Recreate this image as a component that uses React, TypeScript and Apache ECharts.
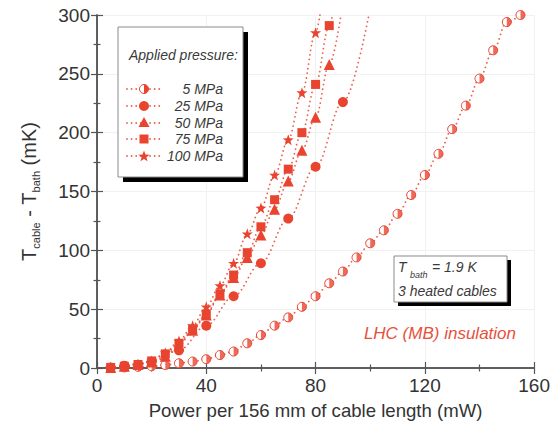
import React, { useEffect, useRef } from "react";
import * as echarts from "echarts";

// ---- Data ----
const xTicks = [0, 40, 80, 120, 160];
const yTicks = [0, 50, 100, 150, 200, 250, 300];

const p5x = [5, 10, 15, 20, 25, 30, 35, 40, 45, 50, 55, 60, 65, 70, 75, 80, 85, 90, 95, 100, 105, 110, 115, 120, 125, 130, 135, 140, 145, 150, 155];
const p5y = [0.3, 0.5, 1, 1.5, 2.5, 4, 5.5, 7.5, 11, 14, 21, 28, 36, 43, 52, 61, 72, 82, 94, 106, 117, 131, 147, 164, 182, 203, 223, 246, 270, 294, 300];

const p25x = [10, 20, 30, 40, 50, 60, 70, 80, 90];
const p25y = [2, 5, 15, 36, 61, 89, 127, 171, 226];
const p25End = [99.5, 300];

const p50x = [5, 10, 15, 20, 25, 30, 35, 40, 45, 50, 55, 60, 65, 70, 75, 80, 85];
const p50y = [0.5, 1.5, 3, 5, 10, 19, 32, 45, 62, 77, 94, 113, 135, 159, 185, 213, 258];
const p50End = [89.3, 300];

const p75x = [5, 10, 15, 20, 25, 30, 35, 40, 45, 50, 55, 60, 65, 70, 75, 80, 85];
const p75y = [0.5, 1.5, 3, 6, 12, 21, 33, 46, 63, 79, 98, 120, 143, 169, 200, 241, 291];
const p75End = [86.2, 300];

const p100x = [5, 10, 15, 20, 25, 30, 35, 40, 45, 50, 55, 60, 65, 70, 75, 80];
const p100y = [0.5, 1.5, 3, 6, 13, 23, 36, 52, 70, 89, 114, 136, 164, 194, 234, 285];
const p100End = [81.6, 300];

const legendLabels = ["5 MPa", "25 MPa", "50 MPa", "75 MPa", "100 MPa"];

// ---- Styles ----
const RED = "#e8442f";
const FONT = "'Liberation Sans', Arial, Helvetica, sans-serif";
const STAR = "path://M0,-10 L2.35,-3.24 L9.51,-3.09 L3.8,1.24 L5.88,8.09 L0,4 L-5.88,8.09 L-3.8,1.24 L-9.51,-3.09 L-2.35,-3.24 Z";
const HALF = "path://M0,-10 A10,10 0 0 1 0,10 Z";

const pairs = (xs: number[], ys: number[]) => xs.map((x, i) => [x, ys[i]]);

const lineStyle = { color: RED, width: 1.8, type: [0.01, 4.6] as any, cap: "round" as any, opacity: 0.85 };

function starPoints(cx: number, cy: number, r: number) {
  const pts: number[][] = [];
  for (let i = 0; i < 10; i++) {
    const rr = i % 2 === 0 ? r : r * 0.42;
    const a = -Math.PI / 2 + (i * Math.PI) / 5;
    pts.push([cx + rr * Math.cos(a), cy + rr * Math.sin(a)]);
  }
  return pts;
}

export default function App() {
  const ref = useRef<HTMLDivElement>(null);
  useEffect(() => {
    if (!ref.current) return;
    const chart = echarts.init(ref.current, null, { renderer: "svg" });

    const mk = (name: string, xs: number[], ys: number[], end: number[] | null, symbol: string, size: any, z = 3) => {
      const data: any[] = pairs(xs, ys);
      if (end) data.push({ value: end, symbol: "none" });
      return {
        name,
        type: "line",
        data,
        symbol,
        symbolSize: size,
        showAllSymbol: true,
        smooth: 0.35,
        smoothMonotone: "x",
        lineStyle,
        itemStyle: { color: RED, borderWidth: 0 },
        z,
      };
    };

    // legend drawn as graphic
    const lx = 118, ly = 27, lw = 125, lh = 150;
    const rows = [89, 106, 123, 139, 156];
    const mxc = 144;
    const legendEls: any[] = [
      { type: "rect", shape: { x: lx + 5, y: ly + 5, width: lw, height: lh }, style: { fill: "#000" }, z: 10 },
      { type: "rect", shape: { x: lx, y: ly, width: lw, height: lh }, style: { fill: "#fff", stroke: "#8a8a8a", lineWidth: 1 }, z: 11 },
      { type: "text", x: 129, y: 55, style: { text: "Applied pressure:", font: `italic 14px ${FONT}`, fill: "#3a3a3a", verticalAlign: "middle" }, z: 12 },
    ];
    rows.forEach((ry, i) => {
      legendEls.push({ type: "line", shape: { x1: 127, y1: ry, x2: 162, y2: ry }, style: { stroke: RED, lineWidth: 1.8, lineDash: [0.01, 4.6], lineCap: "round", opacity: 0.85 }, z: 12 });
      legendEls.push({ type: "text", x: 223, y: ry, style: { text: legendLabels[i], font: `italic 14px ${FONT}`, fill: "#3a3a3a", align: "right", verticalAlign: "middle" }, z: 12 });
    });
    legendEls.push({ type: "circle", shape: { cx: mxc, cy: rows[0], r: 4.5 }, style: { fill: "#fff", stroke: RED, lineWidth: 1 }, z: 13 });
    legendEls.push({ type: "sector", shape: { cx: mxc, cy: rows[0], r: 4.5, r0: 0, startAngle: -Math.PI / 2, endAngle: Math.PI / 2, clockwise: true }, style: { fill: RED }, z: 14 });
    legendEls.push({ type: "circle", shape: { cx: mxc, cy: rows[1], r: 5 }, style: { fill: RED }, z: 13 });
    legendEls.push({ type: "polygon", shape: { points: [[mxc, rows[2] - 6], [mxc + 5.5, rows[2] + 4], [mxc - 5.5, rows[2] + 4]] }, style: { fill: RED }, z: 13 });
    legendEls.push({ type: "rect", shape: { x: mxc - 4.5, y: rows[3] - 4.5, width: 9, height: 9 }, style: { fill: RED }, z: 13 });
    legendEls.push({ type: "polygon", shape: { points: starPoints(mxc, rows[4] + 0.5, 6) }, style: { fill: RED }, z: 13 });

    // info box
    const bx = 394, by = 256, bw = 113, bh = 46;
    const infoEls: any[] = [
      { type: "rect", shape: { x: bx + 4, y: by + 4, width: bw, height: bh }, style: { fill: "#000" }, z: 10 },
      { type: "rect", shape: { x: bx, y: by, width: bw, height: bh }, style: { fill: "#fff", stroke: "#8a8a8a", lineWidth: 1 }, z: 11 },
      { type: "text", x: 398, y: 267, style: { text: "T", font: `italic 14px ${FONT}`, fill: "#3a3a3a", verticalAlign: "middle" }, z: 12 },
      { type: "text", x: 410, y: 275, style: { text: "bath", font: `italic 9px ${FONT}`, fill: "#3a3a3a", verticalAlign: "middle" }, z: 12 },
      { type: "text", x: 432, y: 267, style: { text: "= 1.9 K", font: `italic 14px ${FONT}`, fill: "#3a3a3a", verticalAlign: "middle" }, z: 12 },
      { type: "text", x: 398, y: 291, style: { text: "3 heated cables", font: `italic 14px ${FONT}`, fill: "#3a3a3a", verticalAlign: "middle" }, z: 12 },
      { type: "text", x: 516, y: 333, style: { text: "LHC (MB) insulation", font: `italic 17px ${FONT}`, fill: "#e8503c", align: "right", verticalAlign: "middle" }, z: 12 },
    ];

    const axisLine = { lineStyle: { color: "#555", width: 1.5 } };
    const tickStyle = { lineStyle: { color: "#555", width: 1.2 } };

    chart.setOption({
      animation: false,
      backgroundColor: "#fff",
      textStyle: { fontFamily: FONT },
      grid: { left: 97, right: 15, top: 15, bottom: 56, containLabel: false },
      xAxis: [
        {
          type: "value", min: xTicks[0], max: xTicks[xTicks.length - 1], interval: 40,
          axisLine, axisTick: { inside: true, length: 6, ...tickStyle },
          minorTick: { show: true, splitNumber: 2, length: 3.5, ...tickStyle },
          splitLine: { show: true, lineStyle: { color: "#f1f1f1", width: 1 } },
          axisLabel: { color: "#333", fontSize: 19, margin: 8, fontFamily: FONT },
          name: "Power per 156 mm of cable length (mW)", nameLocation: "middle", nameGap: 33,
          nameTextStyle: { color: "#333", fontSize: 18.6, fontFamily: FONT, verticalAlign: "top" },
        },
        {
          type: "value", position: "top", min: 0, max: 160, interval: 40,
          axisLine, axisTick: { inside: true, length: 6, ...tickStyle },
          minorTick: { show: true, splitNumber: 2, length: 3.5, ...tickStyle },
          splitLine: { show: false }, axisLabel: { show: false },
        },
      ],
      yAxis: [
        {
          type: "value", min: yTicks[0], max: yTicks[yTicks.length - 1], interval: 50,
          axisLine: { show: true, ...axisLine }, axisTick: { show: true, inside: true, length: 6, ...tickStyle },
          minorTick: { show: true, splitNumber: 2, length: 3.5, ...tickStyle },
          splitLine: { show: true, lineStyle: { color: "#f1f1f1", width: 1 } },
          axisLabel: { color: "#333", fontSize: 19, margin: 7, fontFamily: FONT },
          name: "{a|T}{s|cable}{a| - T}{s|bath}{a| (mK)}", nameLocation: "middle", nameGap: 56, nameRotate: 90,
          nameTextStyle: {
            color: "#333", fontFamily: FONT,
            rich: {
              a: { fontSize: 20, color: "#333", lineHeight: 24, fontFamily: FONT },
              s: { fontSize: 11, color: "#333", lineHeight: 14, verticalAlign: "bottom", fontFamily: FONT },
            },
          },
        },
        {
          type: "value", position: "right", min: 0, max: 300, interval: 50,
          axisLine: { show: true, ...axisLine }, axisTick: { show: true, inside: true, length: 6, ...tickStyle },
          minorTick: { show: true, splitNumber: 2, length: 3.5, ...tickStyle },
          splitLine: { show: false }, axisLabel: { show: false },
        },
      ],
      graphic: [...legendEls, ...infoEls],
      series: [
        {
          name: "5 MPa", type: "line", data: pairs(p5x, p5y), symbol: "circle", symbolSize: 9, showAllSymbol: true,
          smooth: 0.35, smoothMonotone: "x", lineStyle,
          itemStyle: { color: "#fff", borderColor: RED, borderWidth: 1 }, z: 3,
        },
        {
          name: "5 MPa half", type: "scatter", data: pairs(p5x, p5y), symbol: HALF, symbolSize: [4.5, 9], symbolOffset: [2.25, 0],
          itemStyle: { color: RED }, z: 4, clip: true,
        },
        mk("25 MPa", p25x, p25y, p25End, "circle", 10),
        mk("50 MPa", p50x, p50y, p50End, "triangle", 11),
        mk("75 MPa", p75x, p75y, p75End, "rect", 9),
        mk("100 MPa", p100x, p100y, p100End, STAR, 11),
      ],
    });
    return () => chart.dispose();
  }, []);
  return <div ref={ref} style={{ position: "fixed", left: 0, top: 0, width: 553, height: 425 }} />;
}
